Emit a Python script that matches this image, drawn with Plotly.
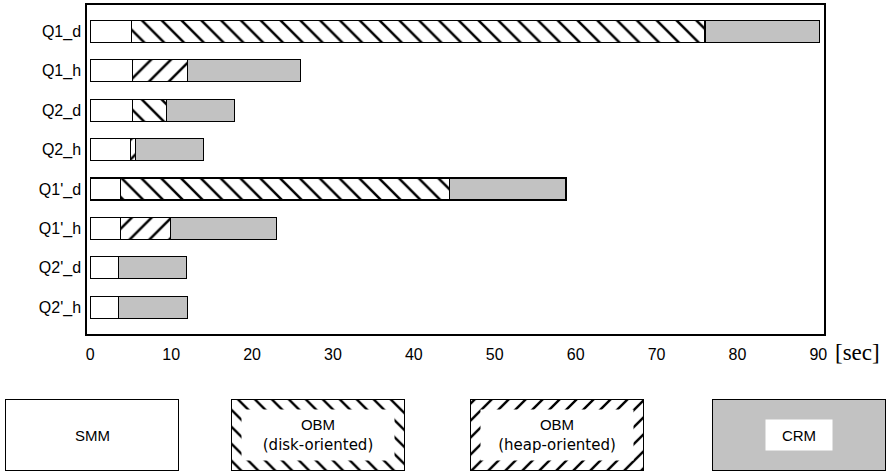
import plotly.graph_objects as go

queries = ["Q1_d", "Q1_h", "Q2_d", "Q2_h", "Q1'_d", "Q1'_h", "Q2'_d", "Q2'_h"]
smm = [5.1, 5.2, 5.2, 5.0, 3.7, 3.7, 3.5, 3.5]
obm_disk = [70.9, None, 4.2, None, 40.7, None, None, None]
obm_heap = [None, 6.8, None, 0.6, None, 6.2, None, None]
crm = [14.1, 14.0, 8.4, 8.4, 14.4, 13.1, 8.4, 8.5]
x_ticks = [0, 10, 20, 30, 40, 50, 60, 70, 80, 90]
legend_top = ["", "OBM", "OBM", ""]
legend_bottom = ["SMM", "(disk-oriented)", "(heap-oriented)", "CRM"]

W, H = 890, 474
FONT = "Liberation Sans, Arial, sans-serif"
LINE = dict(color="black", width=1.3)

pat_smm = dict(shape="", fillmode="overlay")
pat_disk = dict(shape="\\", size=14, solidity=0.18, fgcolor="black", bgcolor="white", fillmode="replace")
pat_heap = dict(shape="/", size=14, solidity=0.18, fgcolor="black", bgcolor="white", fillmode="replace")
pat_crm = dict(shape=".", size=2, solidity=0.5, fgcolor="#959595", bgcolor="#e6e6e6", fillmode="replace")

fig = go.Figure()
series = [("SMM", smm, "white", pat_smm),
          ("OBM (disk-oriented)", obm_disk, "white", pat_disk),
          ("OBM (heap-oriented)", obm_heap, "white", pat_heap),
          ("CRM", crm, "#c8c8c8", pat_crm)]
for name, vals, col, pat in series:
    fig.add_trace(go.Bar(
        y=queries, x=vals, orientation="h", name=name,
        marker=dict(color=col, pattern=pat, line=LINE),
        width=0.56, showlegend=False, xaxis="x", yaxis="y"))

# legend boxes drawn as bars on a separate (pixel-like) axis pair
leg_x = [92, 318, 557, 799]
leg_pats = [pat_smm,
            dict(shape="\\", size=12, solidity=0.2, fgcolor="black", bgcolor="white", fillmode="replace"),
            dict(shape="/", size=12, solidity=0.2, fgcolor="black", bgcolor="white", fillmode="replace"),
            pat_crm]
leg_cols = ["white", "white", "white", "#c8c8c8"]
box_w = [None, 152, 152, 66]
box_h = [None, 50, 50, 30]
for i in range(4):
    fig.add_trace(go.Bar(
        x=[leg_x[i]], y=[1], base=[0], width=173,
        marker=dict(color=leg_cols[i], pattern=leg_pats[i], line=dict(color="black", width=1.5)),
        showlegend=False, xaxis="x2", yaxis="y2", hoverinfo="skip"))
    if legend_top[i]:
        text = (legend_top[i] + "<br><span style='font-family:DejaVu Sans; font-size:15px'>"
                + legend_bottom[i] + "</span>")
    else:
        text = legend_bottom[i]
    ann = dict(x=leg_x[i], y=0.5, xref="x2", yref="y2", text=text, showarrow=False,
               font=dict(family=FONT, size=15, color="black"))
    if i > 0:
        ann.update(bgcolor="white", width=box_w[i], height=box_h[i], borderpad=0)
    fig.add_annotation(**ann)

fig.add_annotation(x=90, y=1 - 352 / H, xref="x", yref="paper", text="[sec]",
                   showarrow=False, xanchor="left", yanchor="middle",
                   xshift=15,
                   font=dict(family="Liberation Serif, Times New Roman, serif", size=23, color="black"))

fig.update_layout(
    width=W, height=H, barmode="stack",
    margin=dict(l=0, r=0, t=0, b=0),
    paper_bgcolor="white", plot_bgcolor="white",
    template="none",
    font=dict(family=FONT, size=16, color="black"),
    xaxis=dict(domain=[87 / W, 824 / W], range=[-0.4, 90.7],
               tickvals=x_ticks, ticktext=[str(v) for v in x_ticks],
               showgrid=False, zeroline=False, showline=True, mirror=True,
               linecolor="black", linewidth=1.5, ticks="outside", ticklen=5,
               tickcolor="rgba(0,0,0,0)", anchor="y", automargin=False,
               tickfont=dict(size=16)),
    yaxis=dict(domain=[1 - 334 / H, 1 - 5 / H], autorange=False,
               range=[7.68, -0.67], showgrid=False, zeroline=False,
               showline=True, mirror=True, linecolor="black", linewidth=1.5,
               ticks="outside", ticklen=1, tickcolor="rgba(0,0,0,0)",
               anchor="x", automargin=False, tickfont=dict(size=16)),
    xaxis2=dict(domain=[0, 1], range=[0, W], visible=False, anchor="y2"),
    yaxis2=dict(domain=[1 - 471 / H, 1 - 399 / H], range=[0, 1],
                visible=False, anchor="x2"),
)

fig.write_html("out.html",
               config={"displayModeBar": False},
               post_script="document.body.style.margin='0';document.body.style.padding='0';")
